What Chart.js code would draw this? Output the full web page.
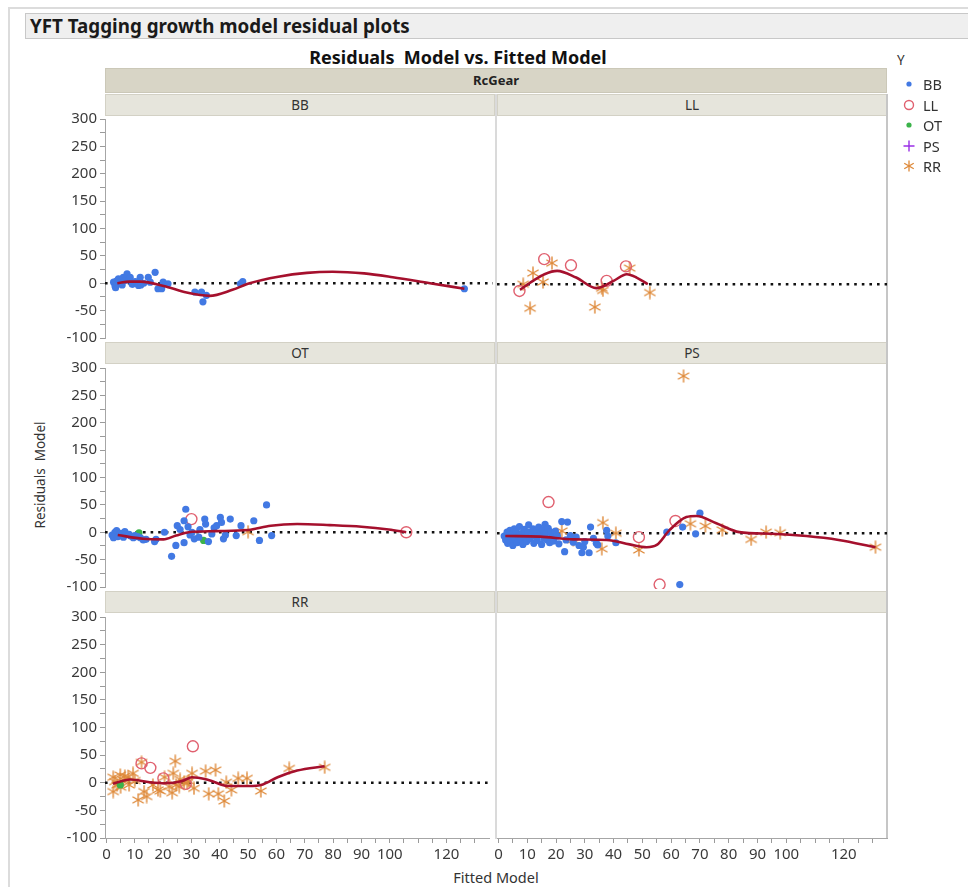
<!DOCTYPE html>
<html>
<head>
<meta charset="utf-8">
<script src="https://cdn.jsdelivr.net/npm/chart.js@4.4.1/dist/chart.umd.min.js"></script>
<style>
  html, body { margin: 0; padding: 0; background: #fff; }
  body { font-family: "Noto Sans", "DejaVu Sans", sans-serif; color: #222; }
  #page { position: relative; width: 968px; height: 887px; overflow: hidden; }
  .abs { position: absolute; }
  #frame { left: 8px; top: 7px; width: 980px; height: 900px; border-left: 2px solid #dcdcdc; border-top: 2px solid #dcdcdc; }
  #outline { left: 25px; top: 13px; width: 960px; height: 24px; background: #efefef; border: 1px solid #c8c8c8;
             font-weight: bold; font-size: 18.8px; line-height: 24px; padding-left: 4px; color: #1a1a1a; }
  #title { left: 158px; width: 600px; top: 45px; text-align: center; font-weight: bold; font-size: 18px; color: #111; }
  #wrapHdr { left: 105px; top: 68px; width: 780px; height: 23px; background: #d8d5c6; border: 1px solid #cbc8b8;
             text-align: center; font-weight: bold; font-size: 13px; line-height: 23px; color: #222; }
  .hdr { height: 20px; background: #e6e5dc; border: 1px solid #d3d1c5; text-align: center; font-size: 13.5px;
         line-height: 20px; color: #333; }
  .vline { background: #dadada; }
  canvas { position: absolute; }
  #ytitle { left: 40px; top: 475px; transform: translate(-50%, -50%) rotate(-90deg); font-size: 13.5px; white-space: nowrap; color: #333; }
  #xtitle { left: 436px; width: 120px; top: 867px; text-align: center; font-size: 14.5px; color: #333; white-space: nowrap; }
  #legend { left: 893px; top: 51px; font-size: 14.5px; color: #333; }
  #legend .ttl { font-size: 13.5px; margin: 0 0 5px 4px; }
  #legend .row { height: 20.5px; display: flex; align-items: center; }
  #legend canvas { position: static; margin: 0 8px 0 10px; }
</style>
</head>
<body>
<div id="page">
  <div id="frame" class="abs"></div>
  <div id="outline" class="abs">YFT Tagging growth model residual plots</div>
  <div id="title" class="abs">Residuals&nbsp; Model vs. Fitted Model</div>
  <div id="wrapHdr" class="abs">RcGear</div>

  <div class="abs hdr" style="left:105px;top:94px;width:388px;">BB</div>
  <div class="abs hdr" style="left:497px;top:94px;width:388px;">LL</div>
  <div class="abs hdr" style="left:105px;top:342px;width:388px;">OT</div>
  <div class="abs hdr" style="left:497px;top:342px;width:388px;">PS</div>
  <div class="abs hdr" style="left:105px;top:591px;width:388px;">RR</div>
  <div class="abs hdr" style="left:497px;top:591px;width:388px;"></div>

  <div class="abs vline" style="left:495px;top:94px;width:2px;height:745px;"></div>
  <div class="abs vline" style="left:886px;top:94px;width:2px;height:745px;background:#c6c6c6;"></div>

  <div id="ytitle" class="abs">Residuals&nbsp; Model</div>
  <div id="xtitle" class="abs">Fitted Model</div>

  <div id="legend" class="abs">
    <div class="ttl">Y</div>
    <div class="row"><canvas id="lg0" width="12" height="14"></canvas>BB</div>
    <div class="row"><canvas id="lg1" width="12" height="14"></canvas>LL</div>
    <div class="row"><canvas id="lg2" width="12" height="14"></canvas>OT</div>
    <div class="row"><canvas id="lg3" width="12" height="14"></canvas>PS</div>
    <div class="row"><canvas id="lg4" width="12" height="14"></canvas>RR</div>
  </div>
</div>

<script>
// ---------------- axis ticks ----------------
const xTickValues = [0,5,10,15,20,25,30,35,40,45,50,55,60,65,70,75,80,85,90,95,100,105,110,115,120,125,130];
const xLabelled   = [0,10,20,30,40,50,60,70,80,90,100,120];
const yTickValues = [-100,-75,-50,-25,0,25,50,75,100,125,150,175,200,225,250,275,300];
const yLabelled   = [-100,-50,0,50,100,150,200,250,300];
const xRange = [-0.5, 135];
const yRange = [-100, 300];

// ---------------- data: [fitted, residual] ----------------
// RcGear = BB
const bbPanelBB = [[2.5,2],[3,-5],[3.2,-8],[3.5,4],[3.8,-2],[4.2,8],[4.9,2],[5.5,-3],[5.9,11],[6.5,5],[7.2,17],
  [7.8,6],[8.3,11],[9,-2],[9.4,-1],[10,3],[10.7,2],[11.2,-4],[11.8,11],[12,-3],[13,0],[14.6,11],[15.3,2],[17,20],
  [18,-10],[19.3,-10],[19.8,2],[21.5,-1],[30.9,-16],[33.2,-16],[33.7,-34],[34.9,-22],[46.8,-1],[47.6,3],[125,-10]];
const bbFit = [[3.8,0],[8,3],[12,3],[20,-5],[28,-17],[36,-23],[44,-12],[50,0],[60,12],[70,19],[79,21],[90,18],
  [100,11],[113,0],[125,-10]];

// RcGear = LL
const llPanelLL = [[7.3,-12],[15.9,45],[25.2,34],[37.6,6],[44.3,32]];
const llPanelRR = [[8.6,0],[11,-43],[12,20],[15.5,4],[18.6,38],[33.5,-41],[35.9,-7],[36.3,-11],[45.6,29],[52.6,-15]];
const llFit = [[7.5,-10],[12,6],[16,18],[20.4,24],[27,12],[34,-7],[40,6],[44.6,18],[48,12],[51.9,0]];

// RcGear = OT
const otPanelBB = [[2,-5],[2.5,-10],[3,0],[3.3,-3],[3.6,3],[4,-8],[4.5,-6],[5,-2],[5.5,-4],[6,-9],[6.5,1],[7,-3],
  [8,-4],[8.5,-7],[9.5,-10],[10,-6],[11,-8],[12,-10],[13,-14],[14,-13],[17,-17],[17.5,-13],[20.5,0],[23,-44],
  [24.5,-24],[25,12],[26,5],[27.4,21],[28,42],[27.4,-19],[28.8,10],[29.5,-5],[30.2,0],[31,-12],[32.6,-9],[33,5],
  [34.7,24],[35,15],[36,-17],[37.2,-3],[38,8],[38.9,12],[40.2,27],[40.6,18],[41.3,-12],[42,-5],[43.7,24],
  [45.8,-6],[47.5,12],[52,21],[54,-15],[56.5,50],[58.3,-6]];
const otPanelOT = [[11.5,-1],[34.3,-15]];
const otPanelLL = [[30,24],[105.8,0]];
const otPanelRR = [[50,1]];
const otFit = [[4,-5],[12.9,-12],[20.1,-13],[24.6,-6],[29,0],[38.4,2],[50,4],[58,12],[67.3,15],[78.8,13],
  [90,10],[99.6,5],[105.8,0]];

// RcGear = PS
const psPanelBB = [[2,-5],[2.5,-12],[3,2],[3.2,-18],[3.5,-8],[4,5],[4.3,-15],[4.8,-2],[5,-22],[5.5,8],[5.8,-10],
  [6.2,3],[6.5,-17],[7,-5],[7.3,12],[7.8,-12],[8.2,0],[8.5,-20],[9,7],[9.3,-7],[9.8,-15],[10.2,2],[10.5,15],
  [11,-10],[11.5,-3],[12,8],[12.3,-18],[12.8,-6],[13.2,3],[13.5,-13],[14,11],[14.5,-2],[15,-20],[15.3,6],
  [15.8,-9],[16.2,16],[16.5,0],[17,-12],[17.3,9],[17.8,-17],[18.2,2],[18.7,-7],[19.2,-14],[19.8,4],[20.5,-5],
  [21,-19],[22,21],[23,-33],[23.5,-12],[24,20],[25,-4],[26,-16],[27,-7],[28,-22],[29,-35],[29.5,-25],[30,-15],
  [31.5,-35],[32,11],[33,-9],[34,-18],[34.5,-21],[37.6,5],[38,-5],[40.8,-17],[58.5,2],[63,-92],[64,11],
  [68.5,-1],[70,36]];
const psPanelLL = [[17.4,56],[48.8,-7],[56,-92],[61.5,22]];
const psPanelRR = [[22,4],[26,-12],[35.9,-28],[36.3,19],[40.8,0],[48.8,-30],[64.3,282],[66.7,17],[71.9,13],
  [77.8,6],[87.8,-11],[93,2],[97.9,1],[131,-25]];
const psFit = [[2.4,-5],[14.5,-6],[26,-11],[37.6,-12],[45.6,-20],[51.5,-25],[55,-21],[59.5,6],[65.3,29],
  [68.8,31],[75.7,18],[83.7,2],[95,-1],[107,-5],[118.2,-12],[131,-25]];

// RcGear = RR
const rrPanelRR = [[2.4,10],[2.4,-16],[3,2],[3.8,-4],[4.9,14],[5,-8],[6,5],[6.5,12],[7.7,10],[8,-4],[9.4,17],
  [10,4],[11.2,-31],[12.4,37],[13.3,-16],[14.2,-25],[16.4,-4],[18.2,-13],[19,-15],[20.5,10],[22.2,-7],
  [23.2,-18],[23.6,17],[24.3,39],[24.6,-4],[25.7,-7],[26,6],[27.4,1],[28.5,-1],[29,3],[30.2,17],[30.9,-10],
  [35,21],[36.1,-20],[38.5,23],[39.5,-20],[41.6,-33],[42.3,1],[44.1,-13],[46.5,8],[49.6,8],[54.5,-15],
  [64.5,26],[77,28]];
const rrPanelLL = [[12.4,35],[15.5,27],[20.1,8],[28,-2],[30.5,66]];
const rrPanelOT = [[4.9,-4]];
const rrFit = [[2.3,-2],[8.3,6],[15.3,1],[21,-1],[26.7,3],[30.2,10],[36,5],[43,-6],[50,-6],[55.2,-3],
  [60.4,10],[67.3,22],[77,30]];

// ---------------- styling ----------------
const COLORS = { BB: '#4279e3', LL: '#e0606f', OT: '#3bb34a', PS: '#9a2fe6', RR: '#de8939', fit: '#a5102d' };
Chart.defaults.font.family = '"Noto Sans", "DejaVu Sans", sans-serif';
Chart.defaults.color = '#3a3a3a';

function asteriskImage(color, size, lw) {
  const c = document.createElement('canvas');
  c.width = size; c.height = size;
  const g = c.getContext('2d');
  g.strokeStyle = color; g.lineWidth = lw;
  const cx = size / 2, cy = size / 2, r = size / 2 - 0.5;
  for (const deg of [90, 30, 150]) {
    const t = deg * Math.PI / 180;
    g.beginPath();
    g.moveTo(cx - r * Math.cos(t), cy - r * Math.sin(t));
    g.lineTo(cx + r * Math.cos(t), cy + r * Math.sin(t));
    g.stroke();
  }
  return c;
}
const starRR = asteriskImage(COLORS.RR, 14, 1.4);

const pts = arr => arr.map(([x, y]) => ({ x, y }));

function groupSet(group, arr) {
  const base = { type: 'scatter', data: pts(arr), order: 2 };
  if (group === 'BB') return { ...base, pointStyle: 'circle', pointRadius: 3.6, backgroundColor: COLORS.BB, borderWidth: 0 };
  if (group === 'OT') return { ...base, pointStyle: 'circle', pointRadius: 3.6, backgroundColor: COLORS.OT, borderWidth: 0 };
  if (group === 'LL') return { ...base, pointStyle: 'circle', pointRadius: 5.5, backgroundColor: 'rgba(0,0,0,0)', borderColor: COLORS.LL, borderWidth: 1.4 };
  if (group === 'PS') return { ...base, pointStyle: 'cross', pointRadius: 5, borderColor: COLORS.PS, borderWidth: 1.4 };
  return { ...base, pointStyle: starRR, pointRadius: 7 };
}
function fitSet(arr) {
  return { type: 'line', data: pts(arr), borderColor: COLORS.fit, borderWidth: 2.6, pointRadius: 0,
           cubicInterpolationMode: 'monotone', fill: false, order: 1 };
}
function zeroSet() {
  return { type: 'line', data: [{ x: xRange[0], y: 0 }, { x: xRange[1], y: 0 }], borderColor: '#111',
           borderWidth: 2.6, borderDash: [2.6, 5], borderCapStyle: 'butt', pointRadius: 0, fill: false, order: 3 };
}

// geometry of the 2 x 3 facet grid
const AREA_H = 223, ROW_PITCH = 249, FIRST_TOP = 117, Y_AXIS_W = 60;
const COLS = [{ canvasLeft: 45, width: 452, padL: 0, padR: 2, showY: true },
              { canvasLeft: 487, width: 408, padL: 10, padR: 8, showY: false }];

function makePanel(col, row, datasets) {
  const c = COLS[col];
  const showX = row === 2;
  const areaTop = FIRST_TOP + ROW_PITCH * row;
  const canvas = document.createElement('canvas');
  const height = showX ? 10 + AREA_H + 32 : 10 + AREA_H + 10;
  canvas.width = c.width; canvas.height = height;
  canvas.style.left = c.canvasLeft + 'px';
  canvas.style.top = (areaTop - 10) + 'px';
  document.getElementById('page').appendChild(canvas);

  new Chart(canvas, {
    type: 'scatter',
    data: { datasets },
    options: {
      responsive: false, animation: false, devicePixelRatio: 1,
      layout: { padding: { top: 10, bottom: showX ? 0 : 10, left: c.padL, right: c.padR } },
      plugins: { legend: { display: false }, tooltip: { enabled: false } },
      scales: {
        x: {
          type: 'linear', min: xRange[0], max: xRange[1], display: showX,
          afterBuildTicks: s => { s.ticks = xTickValues.map(v => ({ value: v })); },
          afterFit: s => { s.height = showX ? 32 : 0; },
          ticks: { autoSkip: false, maxRotation: 0, minRotation: 0, padding: 3, color: '#3a3a3a',
                   font: { size: 15 }, callback: v => xLabelled.includes(v) ? String(v) : '' },
          grid: { drawOnChartArea: false, drawTicks: true, tickLength: 5, color: '#9a9a9a' },
          border: { display: true, color: '#a6a6a6', width: 1 }
        },
        y: {
          type: 'linear', min: yRange[0], max: yRange[1], display: c.showY,
          afterBuildTicks: s => { s.ticks = yTickValues.map(v => ({ value: v })); },
          afterFit: s => { s.width = c.showY ? Y_AXIS_W : 0; },
          ticks: { autoSkip: false, padding: 3, color: '#3a3a3a', font: { size: 15 },
                   callback: v => yLabelled.includes(v) ? String(v) : '' },
          grid: { drawOnChartArea: false, drawTicks: true, tickLength: 5, color: '#9a9a9a' },
          border: { display: true, color: '#a6a6a6', width: 1 }
        }
      }
    }
  });
}

makePanel(0, 0, [zeroSet(), groupSet('BB', bbPanelBB), fitSet(bbFit)]);
makePanel(1, 0, [zeroSet(), groupSet('LL', llPanelLL), groupSet('RR', llPanelRR), fitSet(llFit)]);
makePanel(0, 1, [zeroSet(), groupSet('BB', otPanelBB), groupSet('OT', otPanelOT), groupSet('LL', otPanelLL),
                 groupSet('RR', otPanelRR), fitSet(otFit)]);
makePanel(1, 1, [zeroSet(), groupSet('BB', psPanelBB), groupSet('LL', psPanelLL), groupSet('RR', psPanelRR), fitSet(psFit)]);
makePanel(0, 2, [zeroSet(), groupSet('LL', rrPanelLL), groupSet('OT', rrPanelOT), groupSet('RR', rrPanelRR), fitSet(rrFit)]);
makePanel(1, 2, []);

// legend markers
(function () {
  const draw = (id, fn) => { const g = document.getElementById(id).getContext('2d'); fn(g); };
  draw('lg0', g => { g.fillStyle = COLORS.BB; g.beginPath(); g.arc(6, 7, 2.6, 0, Math.PI * 2); g.fill(); });
  draw('lg1', g => { g.strokeStyle = COLORS.LL; g.lineWidth = 1.4; g.beginPath(); g.arc(6, 7, 4.5, 0, Math.PI * 2); g.stroke(); });
  draw('lg2', g => { g.fillStyle = COLORS.OT; g.beginPath(); g.arc(6, 7, 2.6, 0, Math.PI * 2); g.fill(); });
  draw('lg3', g => { g.strokeStyle = COLORS.PS; g.lineWidth = 1.4; g.beginPath();
                     g.moveTo(0.5, 7); g.lineTo(11.5, 7); g.moveTo(6, 1.5); g.lineTo(6, 12.5); g.stroke(); });
  draw('lg4', g => { g.drawImage(asteriskImage(COLORS.RR, 12, 1.3), 0, 1); });
})();
</script>
</body>
</html>
